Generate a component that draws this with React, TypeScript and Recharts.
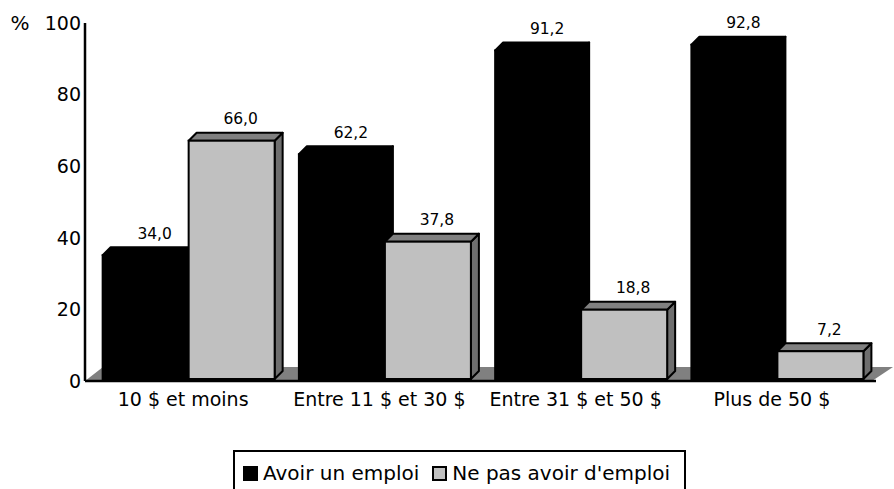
import React from 'react';
import { BarChart, Bar, XAxis, YAxis, Legend, LabelList, ReferenceArea } from 'recharts';

const categories = ['10 $ et moins', 'Entre 11 $ et 30 $', 'Entre 31 $ et 50 $', 'Plus de 50 $'];
const avoirEmploi = [34.0, 62.2, 91.2, 92.8];
const pasEmploi = [66.0, 37.8, 18.8, 7.2];
const yTicks = [0, 20, 40, 60, 80, 100];
const seriesNames = ['Avoir un emploi', "Ne pas avoir d'emploi"];

const data = categories.map((c, i) => ({ cat: c, a: avoirEmploi[i], b: pasEmploi[i] }));

const FONT = '"DejaVu Sans", sans-serif';
const D = 8; // 3D depth
const LIFT = 4;

const make3D = (front: string, top: string, side: string) => (props: any) => {
  const { x, y, width, height } = props;
  if (width == null || height == null) return null;
  const fy = y - LIFT;
  const fb = y + height - 2;
  return (
    <g>
      <polygon
        points={`${x + width},${fy} ${x + width + D},${fy - D} ${x + width + D},${fb - D} ${x + width},${fb}`}
        fill={side}
        stroke="#000"
        strokeWidth={2}
        strokeLinejoin="round"
      />
      <polygon
        points={`${x},${fy} ${x + D},${fy - D} ${x + width + D},${fy - D} ${x + width},${fy}`}
        fill={top}
        stroke="#000"
        strokeWidth={2}
        strokeLinejoin="round"
      />
      <rect x={x} y={fy} width={width} height={fb - fy} fill={front} stroke="#000" strokeWidth={2} />
    </g>
  );
};

const BlackBar = make3D('#000000', '#000000', '#000000');
const GrayBar = make3D('#C0C0C0', '#808080', '#6E6E6E');

const ValueLabel = (props: any) => {
  const { x, y, width, value } = props;
  return (
    <text
      x={x + width / 2 + 9}
      y={y - LIFT - 22}
      dy="0.355em"
      textAnchor="middle"
      fontFamily={FONT}
      fontSize={15.5}
      fill="#000"
    >
      {Number(value).toFixed(1).replace('.', ',')}
    </text>
  );
};

const XTick = (props: any) => {
  const { x, y, payload } = props;
  return (
    <text
      x={x - 6}
      y={y}
      dy="0.71em"
      textAnchor="middle"
      fontFamily={FONT}
      fontSize={19}
      fill="#000000"
      style={{ fill: '#000000' }}
    >
      {payload.value}
    </text>
  );
};

const Floor = (props: any) => {
  const { x, y, width, height } = props;
  const fy = y + height;
  const by = fy - 14;
  return (
    <polygon
      points={`${x - 6},${fy} ${x + width - 4},${fy} ${x + width + 17},${by} ${x + 12},${by}`}
      fill="#808080"
      stroke="none"
    />
  );
};

const LegendContent = (props: any) => {
  const payload = props.payload || [];
  return (
    <div
      style={{
        border: '2px solid #000',
        boxSizing: 'border-box',
        width: 453,
        height: 60,
        display: 'flex',
        alignItems: 'flex-start',
        paddingTop: 9,
        paddingLeft: 8,
        fontFamily: FONT,
        fontSize: 20,
        color: '#000',
        background: '#fff',
      }}
    >
      {payload.map((p: any, i: number) => (
        <div key={i} style={{ display: 'flex', alignItems: 'center', marginRight: i === 0 ? 13 : 0 }}>
          <span
            style={{
              display: 'inline-block',
              width: 15,
              height: 15,
              boxSizing: 'border-box',
              background: i === 0 ? '#000' : '#C0C0C0',
              border: '2px solid #000',
              marginRight: 5,
            }}
          />
          <span style={{ whiteSpace: 'nowrap' }}>{seriesNames[i]}</span>
        </div>
      ))}
    </div>
  );
};

export default function App() {
  return (
    <div style={{ position: 'absolute', left: 0, top: 0, width: 894, height: 489, background: '#fff', overflow: 'hidden' }}>
      <BarChart
        width={894}
        height={489}
        data={data}
        margin={{ top: 23, right: 18, bottom: 78, left: 0 }}
        barGap={0}
        barCategoryGap={11.65}
      >
        <ReferenceArea y1={0} y2={4} shape={<Floor />} ifOverflow="visible" />
        <XAxis
          dataKey="cat"
          height={30}
          padding={{ left: 6, right: 0 }}
          axisLine={{ stroke: '#000', strokeWidth: 2.5 }}
          tickLine={false}
          tickSize={0}
          tickMargin={12}
          tick={<XTick />}
          interval={0}
        />
        <YAxis
          width={85}
          domain={[0, 100]}
          ticks={yTicks}
          interval={0}
          axisLine={{ stroke: '#000', strokeWidth: 2.5 }}
          tickLine={false}
          tickSize={0}
          tickMargin={4}
          tick={{ fill: '#000', fontFamily: FONT, fontSize: 19 }}
          label={{
            content: (lp: any) => {
              const vb = lp.viewBox || { x: 0, y: 23 };
              return (
                <text x={vb.x + 20} y={vb.y} dy="0.355em" textAnchor="middle" fontFamily={FONT} fontSize={20} fill="#000">
                  %
                </text>
              );
            },
          }}
        />
        <Bar dataKey="a" name={seriesNames[0]} fill="#000000" shape={BlackBar} isAnimationActive={false}>
          <LabelList dataKey="a" content={ValueLabel} />
        </Bar>
        <Bar dataKey="b" name={seriesNames[1]} fill="#C0C0C0" shape={GrayBar} isAnimationActive={false}>
          <LabelList dataKey="b" content={ValueLabel} />
        </Bar>
        <Legend
          layout="horizontal"
          verticalAlign="middle"
          align="center"
          content={LegendContent}
          wrapperStyle={{ position: 'absolute', top: 450, left: 233, width: 453, height: 60 }}
        />
      </BarChart>
    </div>
  );
}
